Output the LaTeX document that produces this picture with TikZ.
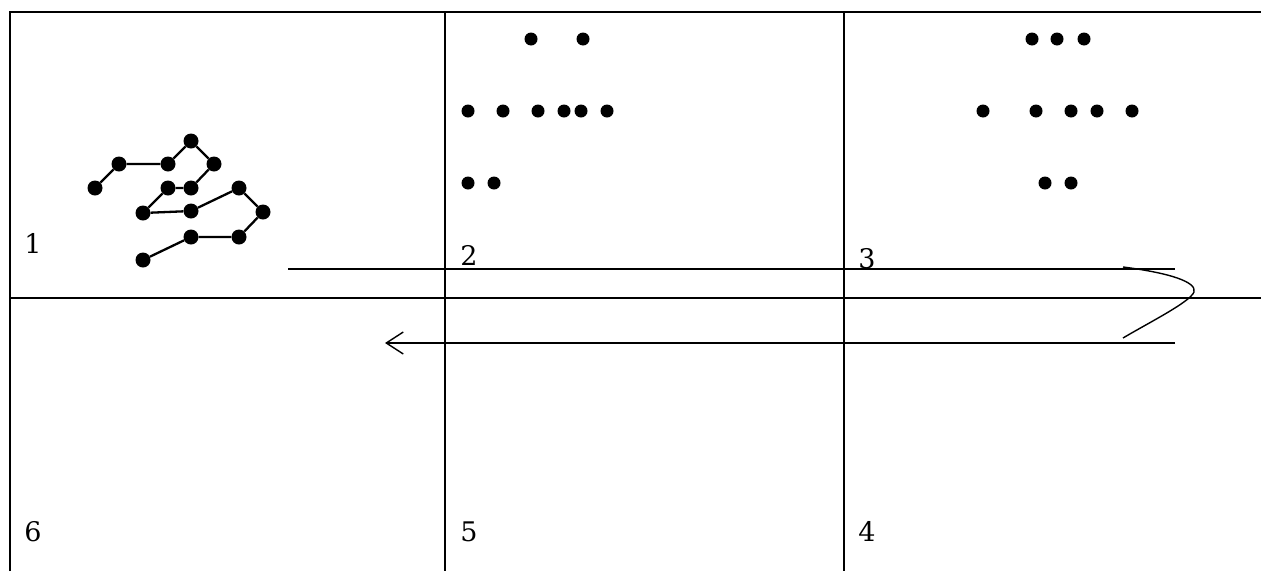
\documentclass[tikz,border=0pt]{standalone}
\usepackage{fontspec}
\setmainfont{DejaVu Serif}
\usetikzlibrary{arrows.meta}
\tikzset{
  dot/.style={circle,fill=black,inner sep=0pt,minimum size=13pt},
  bigdot/.style={circle,fill=black,inner sep=0pt,minimum size=15pt},
  cellnum/.style={font=\fontsize{27}{29}\selectfont,inner sep=0pt,anchor=base},
  flow/.style={line width=1.4pt}
}
\begin{document}
\begin{tikzpicture}[x=1pt,y=-1pt]
    \useasboundingbox (0,0) rectangle (1261,571);
    % grid
    \draw[line width=2pt] (10,571) -- (10,12) -- (1261,12);
    \draw[line width=2pt] (10,298) -- (1261,298);
    \draw[line width=2pt] (445,12) -- (445,571);
    \draw[line width=2pt] (844,12) -- (844,571);
    % cell numbers
    \node[cellnum] (n1) at (33,253) {1};
    \node[cellnum] (n2) at (469,265) {2};
    \node[cellnum] (n3) at (867,268) {3};
    \node[cellnum] (n6) at (33,541) {6};
    \node[cellnum] (n5) at (469,541) {5};
    \node[cellnum] (n4) at (867,541) {4};
    % chain in cell 1
    \foreach \name/\x/\y in {a/95/188,b/119/164,c/168/164,d/191/141,e/214/164,f/191/188,g/168/188,
                             h/143/213,i/191/211,j/239/188,k/263/212,l/239/237,m/191/237,o/143/260}
      \node[bigdot] (\name) at (\x,\y) {};
    \draw[line width=2.3pt] (a) -- (b) -- (c) -- (d) -- (e) -- (f) -- (g) -- (h) -- (i) -- (j) -- (k) -- (l) -- (m) -- (o);
    % dots in cell 2
    \foreach \i/\x/\y in {1/531/39,2/583/39,3/468/111,4/503/111,5/538/111,6/564/111,7/581/111,8/607/111,9/468/183,10/494/183}
      \node[dot] (p\i) at (\x,\y) {};
    % dots in cell 3
    \foreach \i/\x/\y in {1/1032/39,2/1057/39,3/1084/39,4/983/111,5/1036/111,6/1071/111,7/1097/111,8/1132/111,9/1045/183,10/1071/183}
      \node[dot] (q\i) at (\x,\y) {};
    % scan path
    \coordinate (s0) at (288,269);
    \coordinate (s1) at (1175,269);
    \coordinate (t0) at (1123,267);
    \coordinate (t1) at (1194,292);
    \coordinate (t2) at (1123,338);
    \coordinate (u0) at (1175,343);
    \coordinate (u1) at (385,343);
    \draw[flow] (s0) -- (s1);
    \draw[flow] (t0) .. controls (1170,273) and (1197,282) .. (t1)
                     .. controls (1190,302) and (1150,322) .. (t2);
    \draw[flow,-{Straight Barb[length=17pt,width=22pt]}] (u0) -- (u1);
\end{tikzpicture}
\end{document}
